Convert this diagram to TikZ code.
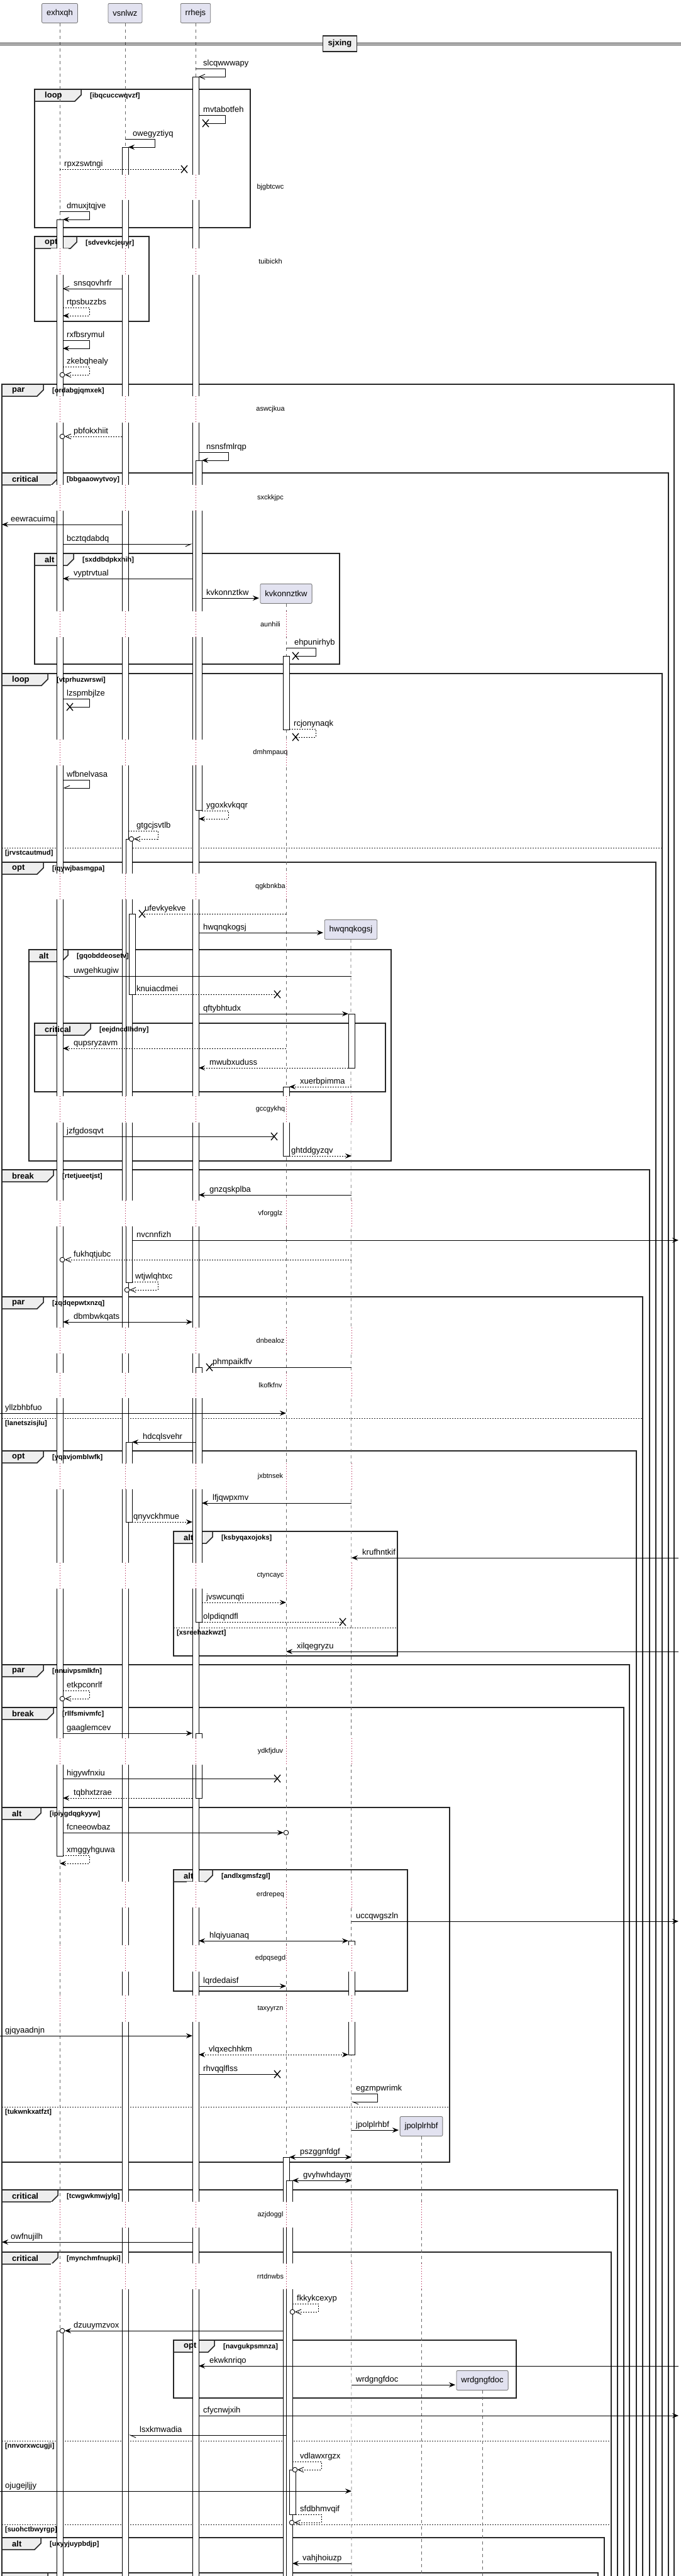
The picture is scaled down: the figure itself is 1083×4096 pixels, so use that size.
\documentclass[tikz,border=0pt]{standalone}
\usepackage{fontspec}
\setmainfont{Liberation Sans}
\usetikzlibrary{arrows.meta}
\definecolor{pfill}{HTML}{E2E2F0}
\definecolor{tabfill}{HTML}{EEEEEE}
\definecolor{dlyc}{HTML}{A80036}
\tikzset{
  pbox/.style={draw=black!55, fill=pfill, line width=0.8pt, rounded corners=2pt, minimum height=31pt, inner xsep=7.5pt, inner ysep=0pt, font=\fontsize{13}{15}\selectfont},
  life/.style={draw=black!60, line width=0.7pt, dash pattern=on 5pt off 5pt},
  actbar/.style={draw=black, fill=white, line width=0.8pt},
  fline/.style={draw=black!85, line width=1.5pt},
  tabln/.style={draw=black!85, fill=tabfill, line width=1.5pt},
  kwl/.style={anchor=west, inner sep=0pt, font=\bfseries\fontsize{13}{15}\selectfont},
  grd/.style={anchor=west, inner sep=0pt, font=\bfseries\fontsize{11}{13}\selectfont},
  eline/.style={draw=black!85, line width=1pt, dash pattern=on 2pt off 2pt},
  dline/.style={draw=dlyc, line width=0.9pt, dash pattern=on 1pt off 3pt},
  dlbl/.style={inner sep=0pt, font=\fontsize{11}{13}\selectfont},
  mline/.style={draw=black, line width=0.9pt},
  mlbl/.style={anchor=base west, inner sep=0pt, font=\fontsize{13}{15}\selectfont},
  xline/.style={draw=black, line width=1.3pt},
  dsh/.style={dash pattern=on 2pt off 2pt},
  fh/.style={-{Stealth[length=10pt,width=8pt,inset=3.5pt]}},
  fb/.style={{Stealth[length=10pt,width=8pt,inset=3.5pt]}-{Stealth[length=10pt,width=8pt,inset=3.5pt]}},
  oh/.style={-{Straight Barb[length=9pt,width=8pt]}},
  hl/.style={-{Straight Barb[length=9pt,width=8pt,left]}},
  hr/.style={-{Straight Barb[length=9pt,width=8pt,right]}},
  divbox/.style={draw=black!85, fill=tabfill, line width=1.5pt, minimum height=25pt, inner xsep=8pt, inner ysep=0pt, font=\bfseries\fontsize{13}{15}\selectfont},
}
% message: [opts]{name}{x1}{x2}{y}{label}{labelx}
\newcommand\msg[7][]{%
  \coordinate (#2a) at (#3,#5);
  \coordinate (#2b) at (#4,#5);
  \draw[mline,#1] (#2a) -- (#2b);
  \node[mlbl] (#2) at (#7,#5-5) {#6};}
% self message: [opts]{name}{xs}{xw}{xe}{y}{label}{labelx}
\newcommand\smsg[8][]{%
  \coordinate (#2a) at (#3,#6);
  \coordinate (#2m) at (#4,#6);
  \coordinate (#2n) at (#4,#6+13);
  \coordinate (#2b) at (#5,#6+13);
  \draw[mline,#1] (#2a) -- (#2m) -- (#2n) -- (#2b);
  \node[mlbl] (#2) at (#8,#6-5) {#7};}
\newcommand\xm[3]{%
  \coordinate (#1) at (#2,#3);
  \draw[xline] (#2-5,#3-6) -- (#2+5,#3+6) (#2-5,#3+6) -- (#2+5,#3-6);}
\newcommand\om[2]{\draw[mline,fill=white] (#1,#2) circle[radius=3.8pt];}
% frame shapes: {name}{x0}{y0}{x1}{y1}{tabw}{kw}{guard}
\newcommand\frmshape[8]{%
  \draw[fline] (#2,#3) rectangle (#4,#5);
  \draw[tabln] (#2,#3) -- (#2+#6,#3) -- (#2+#6,#3+9) -- (#2+#6-10,#3+19) -- (#2,#3+19) -- cycle;}
\newcommand\frmtext[8]{%
  \node[kwl] (#1k) at (#2+16,#3+10) {#7};
  \node[grd] (#1g) at (#2+#6+14,#3+11) {#8};}
% else separator: {name}{x0}{x1}{y}{guard}
\newcommand\elsshape[5]{\draw[eline] (#2,#4) -- (#3,#4);}
\newcommand\elstext[5]{\node[grd] (#1) at (#2+5,#4+9) {#5};}
% delay: {name}{y0}{y1}{label}{xs}
\newcommand\dly[5]{%
  \foreach \xx in {#5}{\fill[white] (\xx-14,#2) rectangle (\xx+14,#3); \draw[dline] (\xx,#2) -- (\xx,#3);}
  \node[dlbl] (#1) at (430,{(#2+#3)/2}) {#4};}
\newcommand\act[3]{\draw[actbar] (#1,#2) rectangle (#1+10,#3);}

\newcommand\allframes{%
\frm{f1}{55}{142}{398}{362}{74}{loop}{[ibqcuccwqvzf]}
\frm{f2}{55}{376}{237}{511}{67}{opt}{[sdvevkcjeuyr]}
\frm{f3}{3}{611}{1072}{4200}{66}{par}{[ordabgjqmxek]}
\frm{f4}{3}{752}{1063}{4200}{89}{critical}{[bbgaaowytvoy]}
\frm{f5}{55}{880}{540}{1056}{62}{alt}{[sxddbdpkxhih]}
\frm{f6}{3}{1071}{1053}{4200}{73}{loop}{[vtprhuzwrswi]}
\els{e6}{3}{1053}{1348}{[jrvstcautmud]}
\frm{f7}{3}{1371}{1043}{4200}{66}{opt}{[iqywjbasmgpa]}
\frm{f8}{46}{1510}{622}{1846}{62}{alt}{[gqobddeosetv]}
\frm{f9}{55}{1627}{613}{1736}{89}{critical}{[eejdncdlhdny]}
\frm{f10}{3}{1860}{1033}{4200}{82}{break}{[rtetjueetjst]}
\frm{f11}{3}{2062}{1022}{4200}{66}{par}{[zqdqepwtxnzq]}
\els{e11}{3}{1022}{2255}{[lanetszisjlu]}
\frm{f12}{3}{2307}{1012}{4200}{66}{opt}{[yqavjomblwfk]}
\frm{f13}{276}{2435}{632}{2633}{62}{alt}{[ksbyqaxojoks]}
\els{e13}{276}{632}{2588}{[xsreehazkwzt]}
\frm{f14}{3}{2647}{1001}{4200}{66}{par}{[nnuivpsmlkfn]}
\frm{f15}{3}{2715}{992}{4200}{82}{break}{[rllfsmivmfc]}
\frm{f16}{3}{2874}{715}{3438}{62}{alt}{[ipiygdqgkyyw]}
\els{e16}{3}{715}{3350}{[tukwnkxatfzt]}
\frm{f17}{276}{2973}{648}{3166}{62}{alt}{[andlxgmsfzgl]}
\frm{f18}{3}{3482}{982}{4200}{89}{critical}{[tcwgwkmwjylg]}
\frm{f19}{3}{3581}{972}{4200}{89}{critical}{[mynchmfnupki]}
\els{e19a}{3}{972}{3881}{[nnvorxwcugji]}
\els{e19b}{3}{972}{4014}{[suohctbwyrgp]}
\frm{f20}{276}{3721}{821}{3813}{65}{opt}{[navgukpsmnza]}
\frm{f21}{3}{4035}{961}{4200}{62}{alt}{[uxyyjuypbdjp]}
\frm{f22}{3}{4091}{951}{4200}{73}{}{}
}

\begin{document}
\begin{tikzpicture}[x=1pt,y=-1pt]
\useasboundingbox (0,0) rectangle (1083,4096);
\clip (0,0) rectangle (1083,4096);
\fill[white] (0,0) rectangle (1083,4096);

% ---------- frames (shapes) ----------
\let\frm\frmshape \let\els\elsshape
\allframes

% ---------- participants & lifelines ----------
\node[pbox, anchor=north] (pE) at (95,5) {exhxqh};
\node[pbox, anchor=north] (pV) at (199,5) {vsnlwz};
\node[pbox, anchor=north] (pR) at (311,5) {rrhejs};
\node[pbox, anchor=north] (pK) at (455,928) {kvkonnztkw};
\node[pbox, anchor=north] (pH) at (558,1462) {hwqnqkogsj};
\node[pbox, anchor=north] (pJ) at (670,3365) {jpolplrhbf};
\node[pbox, anchor=north] (pW) at (767,3769) {wrdgngfdoc};
\draw[life] (pE.south) -- (95,4200);
\draw[life] (pV.south) -- (199,4200);
\draw[life] (pR.south) -- (311,4200);
\draw[life] (pK.south) -- (455,4200);
\draw[life] (pH.south) -- (559,4200);
\draw[life] (pJ.south) -- (670,4200);
\draw[life] (pW.south) -- (767,4200);

% ---------- divider ----------
\draw[line width=1pt] (0,68.5) -- (1083,68.5);
\draw[line width=1pt] (0,71.5) -- (1083,71.5);
\node[divbox] (div) at (540.5,69.5) {sjxing};

% ---------- activation bars ----------
\act{90}{349}{2951}
\act{90}{3706}{4200}
\act{194}{234}{4200}
\act{200}{1334}{2039}
\act{205}{1453}{1581}
\act{200}{2293}{2420}
\act{306}{122}{4200}
\act{311}{732}{1288}
\act{311}{2174}{2579}
\act{311}{2756}{2859}
\act{450}{1043}{1160}
\act{450}{1728}{1838}
\act{450}{3430}{4200}
\act{455}{3467}{4200}
\act{460}{3927}{3998}
\act{554}{1612}{1698}
\act{554}{3086}{3267}

% ---------- frame texts (over the bars) ----------
\let\frm\frmtext \let\els\elstext
\allframes

% ---------- delays ----------
\dly{d1}{278}{318}{bjgbtcwc}{95,199,311}
\dly{d2}{395}{437}{tuibickh}{95,199,311}
\dly{d3}{630}{672}{aswcjkua}{95,199,311}
\dly{d4}{771}{812}{sxckkjpc}{95,199,311}
\dly{d5}{972}{1013}{aunhili}{95,199,311,455}
\dly{d6}{1176}{1217}{dmhmpauq}{95,199,311,455}
\dly{d7}{1389}{1430}{qgkbnkba}{95,199,311,455}
\dly{d8}{1743}{1785}{gccgykhq}{95,199,311,455,559}
\dly{d9}{1909}{1950}{vforgglz}{95,199,311,455,559}
\dly{d10}{2111}{2152}{dnbealoz}{95,199,311,455,559}
\dly{d11}{2183}{2223}{lkofkfnv}{95,199,311,455,559}
\dly{d12}{2327}{2368}{jxbtnsek}{95,199,311,455,559}
\dly{d13}{2485}{2526}{ctyncayc}{95,199,311,455,559}
\dly{d14}{2764}{2806}{ydkfjduv}{95,199,311,455,559}
\dly{d15}{2992}{3033}{erdrepeq}{95,199,311,455,559}
\dly{d16}{3093}{3135}{edpqsegd}{95,199,311,455,559}
\dly{d17}{3173}{3215}{taxyyrzn}{95,199,311,455,559}
\dly{d18}{3501}{3542}{azjdoggl}{95,199,311,455,559,670}
\dly{d19}{3599}{3640}{rrtdnwbs}{95,199,311,455,559,670}

% ---------- messages ----------
\smsg[oh]{m1}{311}{358}{316}{109}{slcqwwwapy}{323}
\smsg[]{m2}{316}{358}{327}{183}{mvtabotfeh}{323}
\xm{x2}{327}{196}
\smsg[fh]{m3}{199}{246}{204}{221}{owegyztiyq}{211}
\msg[dsh]{m4}{95}{293}{269}{rpxzswtngi}{102}
\xm{x4}{293}{269}
\smsg[fh]{m5}{95}{142}{100}{336}{dmuxjtqjve}{106}
\msg[oh]{m6}{194}{100}{459}{snsqovhrfr}{117}
\smsg[dsh,fh]{m7}{100}{142}{100}{489}{rtpsbuzzbs}{106}
\smsg[fh]{m8}{100}{142}{100}{541}{rxfbsrymul}{106}
\smsg[dsh,oh]{m9}{100}{142}{103}{583}{zkebqhealy}{106}
\om{99}{596}
\msg[dsh,oh]{m10}{194}{103}{694}{pbfokxhiit}{117}
\om{99}{694}
\smsg[fh]{m11}{316}{363}{321}{719}{nsnsfmlrqp}{328}
\msg[fh]{m12}{194}{3}{834}{eewracuimq}{17}
\msg[hr]{m13}{100}{306}{865}{bcztqdabdq}{106}
\msg[fh]{m14}{306}{100}{920}{vyptrvtual}{117}
\msg[fh]{m15}{321}{412}{951}{kvkonnztkw}{328}
\smsg[]{m16}{455}{502}{470}{1030}{ehpunirhyb}{468}
\xm{x16}{470}{1043}
\smsg[]{m17}{100}{142}{111}{1111}{lzspmbjlze}{106}
\xm{x17}{111}{1124}
\smsg[dsh]{m18}{460}{502}{470}{1159}{rcjonynaqk}{467}
\xm{x18}{470}{1172}
\smsg[hr]{m19}{100}{142}{100}{1240}{wfbnelvasa}{106}
\smsg[dsh,fh]{m20}{321}{363}{316}{1289}{ygoxkvkqqr}{328}
\smsg[dsh,oh]{m21}{204}{251}{213}{1321}{gtgcjsvtlb}{217}
\om{209}{1334}
\msg[dsh]{m22}{455}{226}{1453}{ufevkyekve}{230}
\xm{x22}{226}{1453}
\msg[fh]{m23}{316}{514}{1483}{hwqnqkogsj}{323}
\msg[hl]{m24}{559}{100}{1552}{uwgehkugiw}{117}
\msg[dsh]{m25}{215}{441}{1581}{knuiacdmei}{217}
\xm{x25}{441}{1581}
\msg[fh]{m26}{316}{554}{1612}{qftybhtudx}{323}
\msg[dsh,fh]{m27}{455}{100}{1667}{qupsryzavm}{117}
\msg[dsh,fh]{m28}{554}{316}{1698}{mwubxuduss}{333}
\msg[dsh,fh]{m29}{559}{460}{1728}{xuerbpimma}{477}
\msg[]{m30}{100}{436}{1807}{jzfgdosqvt}{106}
\xm{x30}{436}{1807}
\msg[dsh,fh]{m31}{460}{559}{1838}{ghtddgyzqv}{463}
\msg[fh]{m32}{559}{316}{1900}{gnzqskplba}{333}
\msg[fh]{m33}{210}{1079}{1972}{nvcnnfizh}{217}
\msg[dsh,oh]{m34}{559}{103}{2003}{fukhqtjubc}{117}
\om{99}{2003}
\smsg[dsh,oh]{m35}{210}{251}{206}{2038}{wtjwlqhtxc}{215}
\om{202}{2051}
\msg[fb]{m36}{100}{306}{2102}{dbmbwkqats}{117}
\msg[]{m37}{559}{333}{2174}{phmpaikffv}{338}
\xm{x37}{333}{2174}
\msg[fh]{m38}{0}{455}{2247}{yllzbhbfuo}{8}
\msg[fh]{m39}{311}{210}{2293}{hdcqlsvehr}{227}
\msg[fh]{m40}{559}{321}{2390}{lfjqwpxmv}{338}
\msg[dsh,fh]{m41}{210}{306}{2420}{qnyvckhmue}{212}
\msg[fh]{m42}{1079}{559}{2477}{krufhntkif}{576}
\msg[dsh,fh]{m43}{321}{455}{2548}{jvswcunqti}{328}
\msg[dsh]{m44}{321}{545}{2579}{olpdiqndfl}{323}
\xm{x44}{545}{2579}
\msg[fh]{m45}{1079}{455}{2626}{xilqegryzu}{472}
\smsg[dsh,oh]{m46}{100}{142}{103}{2688}{etkpconrlf}{106}
\om{99}{2701}
\msg[fh]{m47}{100}{306}{2756}{gaaglemcev}{106}
\msg[]{m48}{100}{441}{2828}{higywfnxiu}{106}
\xm{x48}{441}{2828}
\msg[dsh,fh]{m49}{306}{100}{2859}{tqbhxtzrae}{117}
\msg[fh]{m50}{100}{451}{2914}{fcneeowbaz}{106}
\om{455}{2914}
\smsg[dsh,fh]{m51}{100}{142}{95}{2950}{xmggyhguwa}{106}
\msg[fh]{m52}{559}{1079}{3055}{uccqwgszln}{566}
\msg[fb]{m53}{316}{554}{3086}{hlqiyuanaq}{333}
\msg[fh]{m54}{316}{455}{3158}{lqrdedaisf}{323}
\msg[fh]{m55}{0}{306}{3237}{gjqyaadnjn}{8}
\msg[dsh,fb]{m56}{316}{554}{3267}{vlqxechhkm}{332}
\msg[]{m57}{316}{441}{3298}{rhvqqlflss}{323}
\xm{x57}{441}{3298}
\smsg[hl]{m58}{559}{600}{559}{3329}{egzmpwrimk}{566}
\msg[fh]{m59}{559}{634}{3387}{jpolplrhbf}{566}
\msg[fb]{m60}{460}{559}{3430}{pszggnfdgf}{477}
\msg[fb]{m61}{465}{559}{3467}{gvyhwhdaym}{482}
\msg[fh]{m62}{306}{3}{3565}{owfnujilh}{17}
\smsg[dsh,oh]{m63}{465}{506}{469}{3663}{fkkykcexyp}{472}
\om{465}{3676}
\msg[fh]{m64}{450}{103}{3706}{dzuuymzvox}{117}
\om{99}{3706}
\msg[fh]{m65}{1079}{316}{3762}{ekwknriqo}{333}
\msg[fh]{m66}{559}{724}{3792}{wrdgngfdoc}{566}
\msg[fh]{m67}{316}{1079}{3841}{cfycnwjxih}{323}
\msg[hl]{m68}{455}{205}{3872}{lsxkmwadia}{222}
\smsg[dsh,oh]{m69}{465}{511}{473}{3914}{vdlawxrgzx}{477}
\om{469}{3927}
\msg[fh]{m70}{0}{559}{3961}{ojugejljjy}{8}
\smsg[dsh,oh]{m71}{470}{511}{468}{3998}{sfdbhmvqif}{477}
\om{464}{4011}
\msg[fh]{m72}{559}{465}{4076}{vahjhoiuzp}{481}
\end{tikzpicture}
\end{document}
